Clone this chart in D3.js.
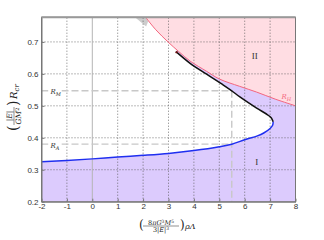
<!DOCTYPE html>
<meta charset="utf-8">
<style>
body { margin: 0; background: #fff; }
.tick text { font: 8px "Liberation Sans", Arial, sans-serif; fill: #333; }
.axis path, .axis line { stroke: #777; }
.grid line { stroke: #555; stroke-width: 0.8px; stroke-dasharray: 1,2; }
.math { font-family: "DejaVu Serif", "Liberation Serif", serif; font-style: italic; fill: #222; }
</style>
<body>
<svg width="324" height="240"></svg>
<script src="https://cdn.jsdelivr.net/npm/d3@7"></script>
<script>
// values
var xTicks = [-2, -1, 0, 1, 2, 3, 4, 5, 6, 7, 8];
var yTicks = [0.2, 0.3, 0.4, 0.5, 0.6, 0.7];

// blue branch (lower), up to the nose of the curve
var lowerBranch = [[-2, 0.325], [-1, 0.329], [0, 0.334], [1, 0.340], [2, 0.345], [3, 0.351],
  [4, 0.360], [5, 0.372], [5.49, 0.380], [6, 0.394], [6.5, 0.406], [6.75, 0.415],
  [7.0, 0.429], [7.1, 0.439], [7.12, 0.45]];
// black branch (upper), from the nose back up-left
var upperBranch = [[7.12, 0.45], [7.05, 0.462], [6.9, 0.472], [6.47, 0.493], [5.81, 0.528],
  [5.49, 0.547], [5.16, 0.565], [4.5, 0.599], [3.85, 0.633], [3.32, 0.668]];
// R_H boundary
var rH = [[2.1, 0.777], [2.5, 0.738], [2.98, 0.700], [3.4, 0.670], [3.85, 0.640], [4.5, 0.608],
  [5.0, 0.584], [5.8, 0.561], [6.47, 0.543], [7.2, 0.521], [8, 0.500]];
// small grey patch at the top
var greyPatch = [[1.68, 0.777], [2.1, 0.777], [2.2, 0.765], [2.12, 0.748]];

var rM = 0.547, rA = 0.380, rhoCut = 5.49;

var svg = d3.select("svg"),
    margin = {top: 17.3, left: 41.5},
    width = 254, height = 184.4;

var x = d3.scaleLinear().domain([-2, 8]).range([margin.left, margin.left + width]),
    y = d3.scaleLinear().domain([0.2, 0.777]).range([margin.top + height, margin.top]);

var line = d3.line()
    .curve(d3.curveCatmullRom)
    .x(function(d) { return x(d[0]); })
    .y(function(d) { return y(d[1]); });

// purple background
svg.append("rect")
    .attr("x", x(-2)).attr("y", y(0.777))
    .attr("width", x(8) - x(-2)).attr("height", y(0.2) - y(0.777))
    .attr("fill", "#dccbfd");

// white region inside the curve
var inner = lowerBranch.concat(upperBranch.slice(1));
svg.append("path")
    .attr("d", line(inner) + "L" + x(3.32) + "," + y(0.777) + "L" + x(-2) + "," + y(0.777) + "Z")
    .attr("fill", "#fff");

// pink region above R_H
svg.append("path")
    .datum(rH)
    .attr("d", d3.area()
        .curve(d3.curveCatmullRom)
        .x(function(d) { return x(d[0]); })
        .y0(y(0.777))
        .y1(function(d) { return y(d[1]); }))
    .attr("fill", "#ffdde3");

svg.append("path")
    .attr("d", d3.line().x(function(d) { return x(d[0]); }).y(function(d) { return y(d[1]); })(greyPatch) + "Z")
    .attr("fill", "#cdcdcd");

// grid
var grid = svg.append("g").attr("class", "grid");
grid.selectAll(".gx")
    .data(xTicks.slice(1, -1).filter(function(d) { return d !== 0; }))
    .enter().append("line")
    .attr("x1", function(d) { return x(d); }).attr("x2", function(d) { return x(d); })
    .attr("y1", y(0.2)).attr("y2", y(0.777));
grid.selectAll(".gy")
    .data(yTicks.slice(1))
    .enter().append("line")
    .attr("y1", function(d) { return y(d); }).attr("y2", function(d) { return y(d); })
    .attr("x1", x(-2)).attr("x2", x(8));
svg.append("line")
    .attr("x1", x(0)).attr("x2", x(0)).attr("y1", y(0.2)).attr("y2", y(0.777))
    .attr("stroke", "#b5b5b5").attr("stroke-width", 1);

// dashed radii
var dash = svg.append("g")
    .attr("stroke", "#c8c8c8").attr("stroke-width", 1.4).attr("stroke-dasharray", "7,3").attr("fill", "none");
dash.append("line").attr("x1", x(-2)).attr("x2", x(rhoCut)).attr("y1", y(rM)).attr("y2", y(rM));
dash.append("line").attr("x1", x(-2)).attr("x2", x(rhoCut)).attr("y1", y(rA)).attr("y2", y(rA));
dash.append("line").attr("x1", x(rhoCut)).attr("x2", x(rhoCut)).attr("y1", y(rM)).attr("y2", y(0.2));

// curves
svg.append("path").datum(rH).attr("d", line)
    .attr("fill", "none").attr("stroke", "#f4667e").attr("stroke-width", 1);
svg.append("path").datum(lowerBranch).attr("d", line)
    .attr("fill", "none").attr("stroke", "#1f2ff0").attr("stroke-width", 1.5);
svg.append("path").datum(upperBranch).attr("d", line)
    .attr("fill", "none").attr("stroke", "#111").attr("stroke-width", 1.5);
svg.append("circle")
    .attr("cx", x(3.32)).attr("cy", y(0.668)).attr("r", 1.2).attr("fill", "#611");

// axes
var plain = function(d) { return String(d); };
svg.append("g")
    .attr("class", "axis")
    .attr("transform", "translate(0," + y(0.2) + ")")
    .call(d3.axisBottom(x).tickValues(xTicks).tickSize(-3).tickSizeOuter(0).tickPadding(2).tickFormat(plain));
svg.append("g")
    .attr("class", "axis")
    .attr("transform", "translate(" + x(-2) + ",0)")
    .call(d3.axisLeft(y).tickValues(yTicks).tickSize(-3).tickSizeOuter(0).tickPadding(3)
      .tickFormat(d3.format(".1f")));
svg.append("rect")
    .attr("x", x(-2)).attr("y", y(0.777))
    .attr("width", x(8) - x(-2)).attr("height", y(0.2) - y(0.777))
    .attr("fill", "none").attr("stroke", "#777").attr("stroke-width", 1);
svg.append("line")
    .attr("x1", x(-2)).attr("x2", x(8)).attr("y1", y(0.777)).attr("y2", y(0.777))
    .attr("stroke", "#999").attr("stroke-width", 2);

// labels on the chart
function rLabel(px, py, sub, color, clear) {
  if (clear) {
    svg.append("rect").attr("x", px - 2).attr("y", py - 6).attr("width", 13).attr("height", 9).attr("fill", "#fff");
  }
  var t = svg.append("text").attr("class", "math")
      .attr("x", px).attr("y", py).style("font-size", "7px").style("fill", color);
  t.append("tspan").text("R");
  t.append("tspan").attr("dy", 2).style("font-size", "5px").text(sub);
}
rLabel(x(-1.65), y(rM) + 3.5, "M", "#333", true);
rLabel(x(-1.65), y(rA) + 3.5, "A", "#333", true);
rLabel(x(7.45), y(0.525) + 1, "H", "#f4667e", false);

svg.append("text").attr("x", x(6.4)).attr("y", y(0.646))
    .attr("text-anchor", "middle")
    .style("font", "9px 'Liberation Serif', serif").style("fill", "#333").text("II");
svg.append("text").attr("x", x(6.47)).attr("y", y(0.315))
    .attr("text-anchor", "middle")
    .style("font", "9px 'Liberation Serif', serif").style("fill", "#333").text("I");

// x axis title
var xl = svg.append("g").attr("class", "math").attr("transform", "translate(165,226)");
xl.append("text").attr("x", -26).attr("y", 3).style("font-size", "12px").style("font-style", "normal").text("(");
var num = xl.append("text").attr("x", -4).attr("y", -1.5).attr("text-anchor", "middle").style("font-size", "6.5px");
num.append("tspan").style("font-style", "normal").text("8");
num.append("tspan").text("πG");
num.append("tspan").attr("dy", -2).style("font-size", "4.5px").style("font-style", "normal").text("3");
num.append("tspan").attr("dy", 2).text("M");
num.append("tspan").attr("dy", -2).style("font-size", "4.5px").style("font-style", "normal").text("5");
xl.append("line").attr("x1", -22).attr("x2", 14).attr("y1", 0).attr("y2", 0).attr("stroke", "#222").attr("stroke-width", 0.5);
var den = xl.append("text").attr("x", -4).attr("y", 6).attr("text-anchor", "middle").style("font-size", "6.5px");
den.append("tspan").style("font-style", "normal").text("3|");
den.append("tspan").text("E");
den.append("tspan").style("font-style", "normal").text("|");
den.append("tspan").attr("dy", -2).style("font-size", "4.5px").style("font-style", "normal").text("3");
xl.append("text").attr("x", 15).attr("y", 3).style("font-size", "12px").style("font-style", "normal").text(")");
xl.append("text").attr("x", 20).attr("y", 3).style("font-size", "8px").text("ρΛ");

// y axis title
var yl = svg.append("g").attr("class", "math").attr("transform", "translate(14,98) rotate(-90)");
yl.append("text").attr("x", -33).attr("y", 4).style("font-size", "14px").style("font-style", "normal").text("(");
var yn = yl.append("text").attr("x", -18).attr("y", -2).attr("text-anchor", "middle").style("font-size", "7.5px");
yn.append("tspan").style("font-style", "normal").text("|");
yn.append("tspan").text("E");
yn.append("tspan").style("font-style", "normal").text("|");
yl.append("line").attr("x1", -27).attr("x2", -9).attr("y1", 0).attr("y2", 0).attr("stroke", "#222").attr("stroke-width", 0.5);
var yd = yl.append("text").attr("x", -18).attr("y", 7).attr("text-anchor", "middle").style("font-size", "7.5px");
yd.append("tspan").text("GM");
yd.append("tspan").attr("dy", -2.5).style("font-size", "5px").style("font-style", "normal").text("2");
yl.append("text").attr("x", -8).attr("y", 4).style("font-size", "14px").style("font-style", "normal").text(")");
var rc = yl.append("text").attr("x", -1).attr("y", 3).style("font-size", "10px");
rc.append("tspan").text("R");
rc.append("tspan").attr("dy", 2).style("font-size", "7px").text("cr");
</script>
</body>
